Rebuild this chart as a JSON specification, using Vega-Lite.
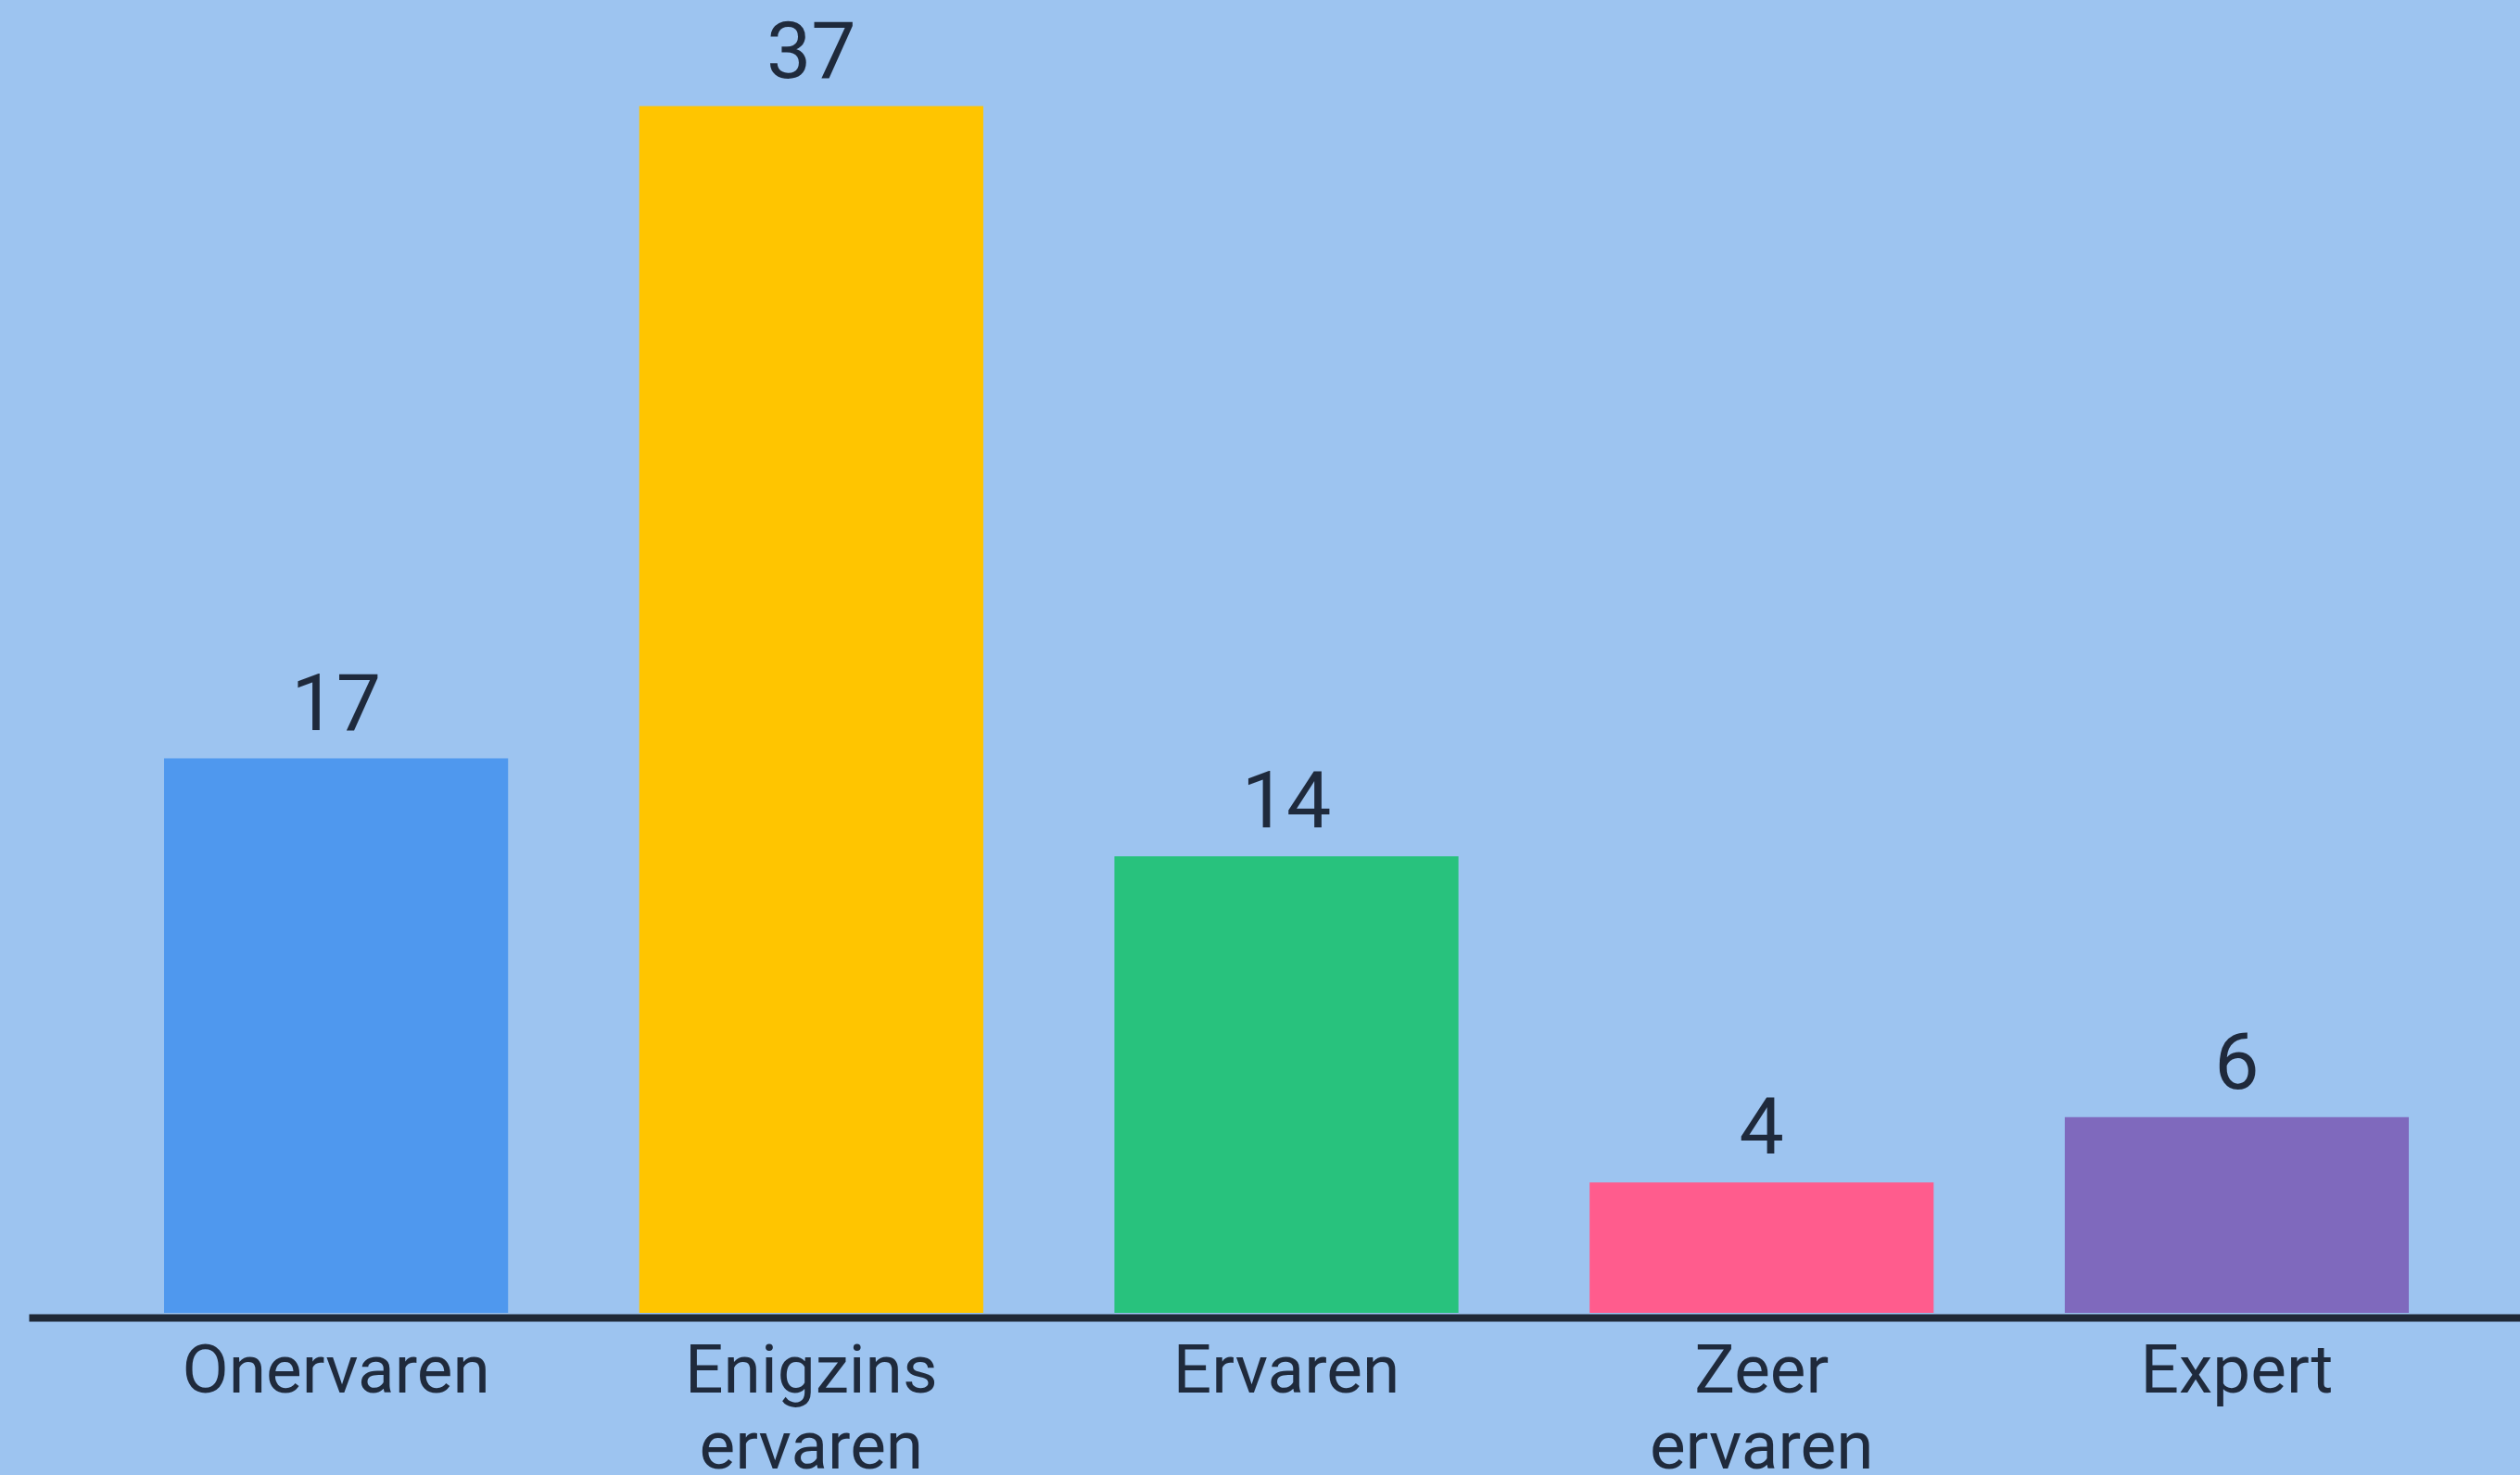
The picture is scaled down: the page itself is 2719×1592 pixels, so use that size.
{
  "$schema": "https://vega.github.io/schema/vega-lite/v6.json",
  "width": 2688,
  "height": 1408,
  "autosize": {"type": "none"},
  "padding": {"left": 31, "top": 9, "right": 0, "bottom": 175},
  "background": "#9DC4F0",
  "config": {"view": {"stroke": null}},
  "data": {
    "values": [
      {"level": "Onervaren", "count": 17},
      {"level": "Enigzins ervaren", "count": 37},
      {"level": "Ervaren", "count": 14},
      {"level": "Zeer ervaren", "count": 4},
      {"level": "Expert", "count": 6}
    ]
  },
  "encoding": {
    "x": {
      "field": "level",
      "type": "nominal",
      "sort": null,
      "scale": {"paddingInner": 0.276, "paddingOuter": 0.2594, "align": 0.549},
      "axis": {
        "title": null,
        "ticks": false,
        "domainColor": "#1f2937",
        "domainWidth": 8,
        "offset": 5,
        "labelAngle": 0,
        "labelFont": "Roboto",
        "labelFontSize": 73,
        "labelColor": "#1f2a3c",
        "labelPadding": 22,
        "labelLimit": 0,
        "labelLineHeight": 82,
        "labelExpr": "split(datum.label, ' ')"
      }
    },
    "y": {
      "field": "count",
      "type": "quantitative",
      "scale": {"domain": [0, 40], "nice": false},
      "axis": null
    }
  },
  "layer": [
    {
      "mark": {"type": "bar"},
      "encoding": {
        "color": {
          "field": "level",
          "type": "nominal",
          "scale": {
            "domain": ["Onervaren", "Enigzins ervaren", "Ervaren", "Zeer ervaren", "Expert"],
            "range": ["#4F98EE", "#FFC500", "#28C27D", "#FF5C8D", "#7F69BD"]
          },
          "legend": null
        }
      }
    },
    {
      "mark": {"type": "text", "dy": -31, "baseline": "alphabetic", "fontSize": 86, "font": "Roboto", "color": "#1f2a3c"},
      "encoding": {"text": {"field": "count", "type": "quantitative"}}
    }
  ]
}
